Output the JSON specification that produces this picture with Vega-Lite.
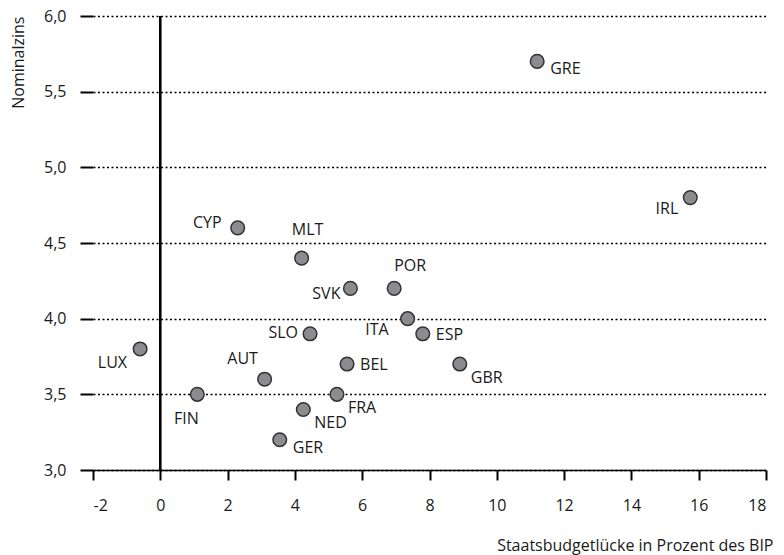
{
  "$schema": "https://vega.github.io/schema/vega-lite/v6.json",
  "width": 673,
  "height": 454,
  "autosize": {"type": "none"},
  "padding": {"left": 93, "top": 16, "right": 18, "bottom": 85},
  "background": "white",
  "config": {
    "view": {"stroke": null},
    "font": "Open Sans",
    "text": {"font": "Open Sans", "fontSize": 16, "color": "#1a1a1a"}
  },
  "data": {
    "values": [
      {"c": "GRE", "x": 11.2, "y": 5.7},
      {"c": "IRL", "x": 15.75, "y": 4.8},
      {"c": "CYP", "x": 2.3, "y": 4.6},
      {"c": "MLT", "x": 4.2, "y": 4.4},
      {"c": "POR", "x": 6.95, "y": 4.2},
      {"c": "SVK", "x": 5.65, "y": 4.2},
      {"c": "ITA", "x": 7.35, "y": 4.0},
      {"c": "ESP", "x": 7.8, "y": 3.9},
      {"c": "SLO", "x": 4.45, "y": 3.9},
      {"c": "AUT", "x": 3.1, "y": 3.6},
      {"c": "BEL", "x": 5.55, "y": 3.7},
      {"c": "GBR", "x": 8.9, "y": 3.7},
      {"c": "FIN", "x": 1.1, "y": 3.5},
      {"c": "FRA", "x": 5.25, "y": 3.5},
      {"c": "NED", "x": 4.25, "y": 3.4},
      {"c": "GER", "x": 3.55, "y": 3.2},
      {"c": "LUX", "x": -0.6, "y": 3.8}
    ]
  },
  "layer": [
    {
      "mark": {"type": "rule", "color": "black", "strokeWidth": 1.5},
      "encoding": {"x": {"datum": 0, "type": "quantitative"}}
    },
    {
      "encoding": {
        "x": {
          "field": "x", "type": "quantitative",
          "scale": {"domain": [-2, 18], "nice": false, "zero": false},
          "axis": {
            "title": "Staatsbudgetlücke in Prozent des BIP",
            "titleAnchor": "end", "titleAlign": "right", "titleX": 680, "titleFontSize": 16, "titleFontWeight": "normal", "titleFont": "Open Sans", "titleColor": "#1a1a1a",
            "titlePadding": 24,
            "values": [-2, 0, 2, 4, 6, 8, 10, 12, 14, 16, 18],
            "labelExpr": "toString(datum.value)",
            "grid": false,
            "domain": true, "domainColor": "black", "domainWidth": 1.5,
            "ticks": true, "tickColor": "black", "tickWidth": 2, "tickSize": 10,
            "labelFontSize": 16, "labelFont": "Open Sans", "labelColor": "#1a1a1a", "labelPadding": 17
          }
        },
        "y": {
          "field": "y", "type": "quantitative",
          "scale": {"domain": [3, 6], "nice": false, "zero": false},
          "axis": {
            "title": "Nominalzins",
            "titleAnchor": "end", "titleFontSize": 16, "titleFontWeight": "normal", "titleFont": "Open Sans", "titleColor": "#1a1a1a",
            "titlePadding": 17,
            "values": [3, 3.5, 4, 4.5, 5, 5.5, 6],
            "labelExpr": "replace(format(datum.value, '.1f'), '.', ',')",
            "grid": true, "gridColor": "black", "gridDash": [2, 2.5], "gridWidth": 1.5,
            "domain": false,
            "ticks": true, "tickColor": "black", "tickWidth": 2, "tickSize": 13,
            "labelFontSize": 16, "labelFont": "Open Sans", "labelColor": "#1a1a1a", "labelPadding": 14
          }
        }
      },
      "layer": [
        {
          "mark": {"type": "point", "shape": "circle", "filled": true, "size": 185, "fill": "#8c8c90", "stroke": "#333333", "strokeWidth": 1.5, "opacity": 1}
        },
        {
          "transform": [{"filter": {"field": "c", "oneOf": ["ESP", "BEL"]}}],
          "mark": {"type": "text", "align": "left", "baseline": "middle", "dx": 13, "dy": 1},
          "encoding": {"text": {"field": "c"}}
        },
        {
          "transform": [{"filter": {"field": "c", "oneOf": ["FRA", "NED", "GBR"]}}],
          "mark": {"type": "text", "align": "left", "baseline": "middle", "dx": 11, "dy": 14},
          "encoding": {"text": {"field": "c"}}
        },
        {
          "transform": [{"filter": {"field": "c", "oneOf": ["GER", "GRE"]}}],
          "mark": {"type": "text", "align": "left", "baseline": "middle", "dx": 13, "dy": 8},
          "encoding": {"text": {"field": "c"}}
        },
        {
          "transform": [{"filter": {"field": "c", "oneOf": ["SVK"]}}],
          "mark": {"type": "text", "align": "right", "baseline": "middle", "dx": -10, "dy": 6},
          "encoding": {"text": {"field": "c"}}
        },
        {
          "transform": [{"filter": {"field": "c", "oneOf": ["IRL"]}}],
          "mark": {"type": "text", "align": "right", "baseline": "middle", "dx": -12, "dy": 11},
          "encoding": {"text": {"field": "c"}}
        },
        {
          "transform": [{"filter": {"field": "c", "oneOf": ["ITA"]}}],
          "mark": {"type": "text", "align": "right", "baseline": "middle", "dx": -19, "dy": 11},
          "encoding": {"text": {"field": "c"}}
        },
        {
          "transform": [{"filter": {"field": "c", "oneOf": ["SLO"]}}],
          "mark": {"type": "text", "align": "right", "baseline": "middle", "dx": -12, "dy": -1},
          "encoding": {"text": {"field": "c"}}
        },
        {
          "transform": [{"filter": {"field": "c", "oneOf": ["LUX"]}}],
          "mark": {"type": "text", "align": "right", "baseline": "middle", "dx": -13, "dy": 14},
          "encoding": {"text": {"field": "c"}}
        },
        {
          "transform": [{"filter": {"field": "c", "oneOf": ["CYP"]}}],
          "mark": {"type": "text", "align": "right", "baseline": "middle", "dx": -16, "dy": -5},
          "encoding": {"text": {"field": "c"}}
        },
        {
          "transform": [{"filter": {"field": "c", "oneOf": ["AUT"]}}],
          "mark": {"type": "text", "align": "center", "baseline": "middle", "dx": -22, "dy": -20},
          "encoding": {"text": {"field": "c"}}
        },
        {
          "transform": [{"filter": {"field": "c", "oneOf": ["FIN"]}}],
          "mark": {"type": "text", "align": "center", "baseline": "middle", "dx": -11, "dy": 25},
          "encoding": {"text": {"field": "c"}}
        },
        {
          "transform": [{"filter": {"field": "c", "oneOf": ["MLT"]}}],
          "mark": {"type": "text", "align": "center", "baseline": "middle", "dx": 6, "dy": -28},
          "encoding": {"text": {"field": "c"}}
        },
        {
          "transform": [{"filter": {"field": "c", "oneOf": ["POR"]}}],
          "mark": {"type": "text", "align": "center", "baseline": "middle", "dx": 16, "dy": -22},
          "encoding": {"text": {"field": "c"}}
        }
      ]
    }
  ]
}
